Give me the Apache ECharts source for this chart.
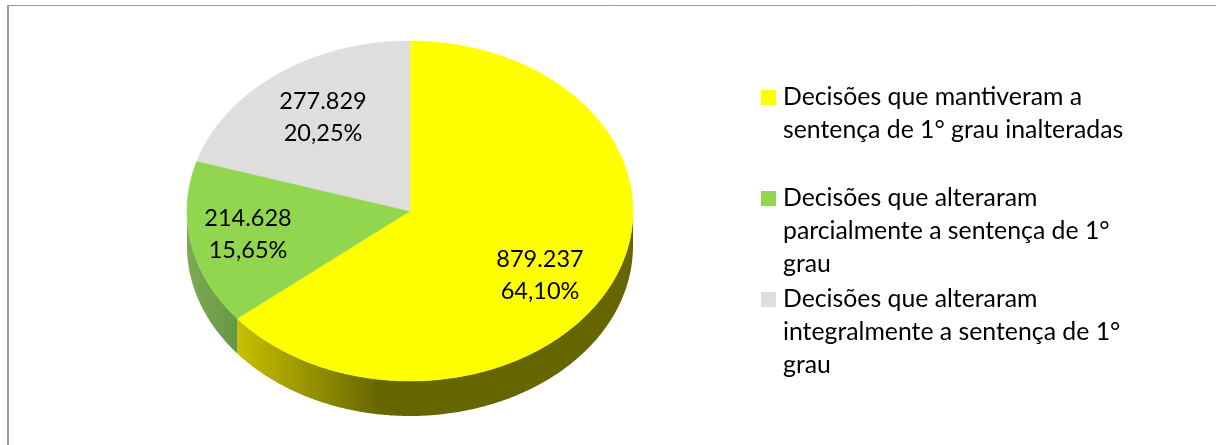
<!DOCTYPE html>
<html>
<head>
<meta charset="utf-8">
<style>html,body{margin:0;background:#fff}#chart{width:1216px;height:445px}</style>
<script src="https://cdn.jsdelivr.net/npm/echarts@6/dist/echarts.min.js"></script>
</head>
<body>
<div id="chart"></div>
<script>
// chart values
const categories = [
  'Decisões que mantiveram a\nsentença de 1° grau inalteradas',
  'Decisões que alteraram\nparcialmente a sentença de 1°\ngrau',
  'Decisões que alteraram\nintegralmente a sentença de 1°\ngrau'
];
const values = [879237, 214628, 277829];
const colors = ['#ffff00', '#92d650', '#dedede'];

// 3d look, no pie3d in echarts so the tilted disc is drawn by custom series
const CX = 410, CY = 211, RX = 223, RY = 170, DEPTH = 35;
const FONT = 'Lato';
const labelSpots = [[540, 275], [248, 234], [323, 117]];
const legendTops = [48, 116, 217];
const wallFills = [
  [[0, '#c8c000'], [0.36, '#666600'], [1, '#666600']],
  [[0, '#7dab52'], [1, '#669745']]
];

const total = values.reduce((a, b) => a + b, 0);

function rimPoint(deg, dy) {
  const t = deg * Math.PI / 180;
  return [CX + RX * Math.sin(t), CY - RY * Math.cos(t) + dy];
}

function arcPoints(from, to, dy) {
  const pts = [];
  const n = Math.max(2, Math.ceil(Math.abs(to - from) * 2));
  for (let i = 0; i <= n; i++) pts.push(rimPoint(from + (to - from) * i / n, dy));
  return pts;
}

function fmtValue(v) {
  return String(v).replace(/\B(?=(\d{3})+$)/g, '.');
}

function fmtPercent(v) {
  return (v / total * 100).toFixed(2).replace('.', ',') + '%';
}

function sliceRender(index) {
  const before = values.slice(0, index).reduce((a, b) => a + b, 0);
  return function (params, api) {
    const start = before / total * 360;
    const end = start + api.value(0) / total * 360;
    const children = [];
    // side wall only shows on the front half of the disc
    const wallFrom = Math.max(start, 90), wallTo = Math.min(end, 270);
    if (wallTo > wallFrom) {
      const top = arcPoints(wallFrom, wallTo, 0);
      const bottom = arcPoints(wallTo, wallFrom, DEPTH);
      children.push({
        type: 'polygon',
        shape: { points: top.concat(bottom) },
        style: {
          fill: new echarts.graphic.LinearGradient(0, 0, 1, 0,
            wallFills[index].map(s => ({ offset: s[0], color: s[1] })))
        }
      });
    }
    children.push({
      type: 'polygon',
      shape: { points: [[CX, CY]].concat(arcPoints(start, end, 0)) },
      style: { fill: colors[index], stroke: colors[index], lineWidth: 0.5 }
    });
    children.push({
      type: 'text',
      x: labelSpots[index][0],
      y: labelSpots[index][1],
      style: {
        text: fmtValue(api.value(0)) + '\n' + fmtPercent(api.value(0)),
        fill: '#000',
        font: '23.5px ' + FONT,
        lineHeight: 32,
        align: 'center',
        verticalAlign: 'middle'
      }
    });
    return { type: 'group', children: children };
  };
}

const chart = echarts.init(document.getElementById('chart'), null, { renderer: 'canvas' });

chart.setOption({
  animation: false,
  backgroundColor: '#fff',
  tooltip: { show: false },
  graphic: [
    { type: 'line', shape: { x1: 7, y1: 5.5, x2: 1216, y2: 5.5 }, style: { stroke: '#999', lineWidth: 1 } },
    { type: 'line', shape: { x1: 8, y1: 5, x2: 8, y2: 445 }, style: { stroke: '#999', lineWidth: 2 } }
  ],
  // one legend per entry: swatch sits on the first line, blank lines keep it there
  legend: categories.map((name, i) => ({
    data: [name],
    left: 761,
    top: legendTops[i],
    orient: 'vertical',
    padding: 0,
    icon: 'rect',
    itemWidth: 15,
    itemHeight: 15,
    selectedMode: false,
    formatter: n => '\n'.repeat(n.split('\n').length - 1) + n,
    textStyle: { color: '#000', fontFamily: FONT, fontSize: 24.8, lineHeight: 33, padding: [0, 0, 0, 2] }
  })),
  series: categories.map((name, i) => ({
    type: 'custom',
    name: name,
    coordinateSystem: 'none',
    itemStyle: { color: colors[i] },
    data: [[values[i]]],
    renderItem: sliceRender(i)
  }))
});
</script>
</body>
</html>
